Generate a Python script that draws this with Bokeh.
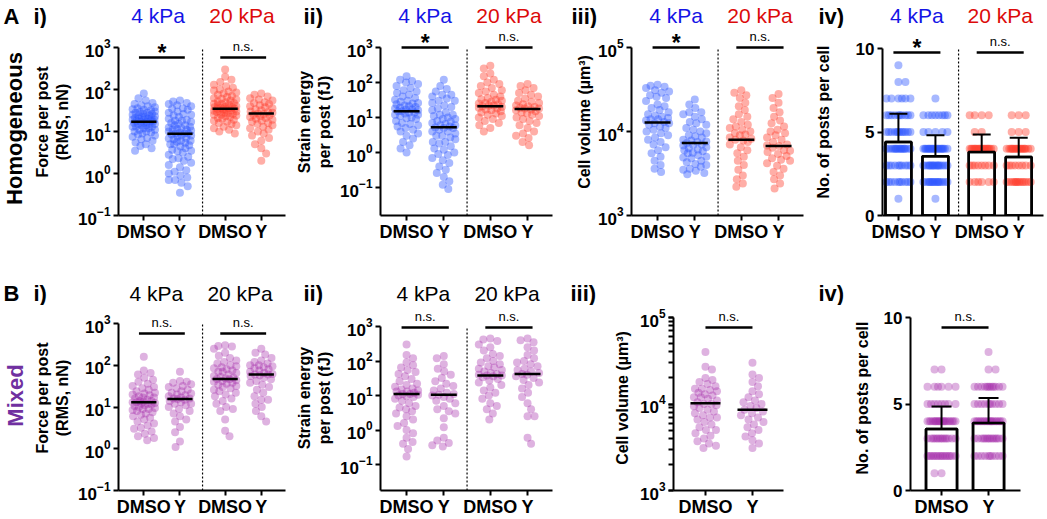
import math
from bokeh.plotting import figure
from bokeh.layouts import row, column
from bokeh.models import Range1d, FixedTicker, LogTicker
from bokeh.core.properties import value
from bokeh.embed import file_html
from bokeh.resources import INLINE

FONT = "Liberation Sans"

# ---------------- data ----------------
x4 = [1, 2, 3.25, 4.25]
labels4 = ["DMSO", "Y", "DMSO", "Y"]
x2 = [1, 2]
labels2 = ["DMSO", "Y"]
stiffness = ["4 kPa", "20 kPa"]
row_names = ["Homogeneous", "Mixed"]
panel_ids = ["i)", "ii)", "iii)", "iv)"]

# A i) force per post, homogeneous (nN)
force_h_dmso4 = [80, 62, 55, 48, 45, 42, 40, 38, 36, 34, 32, 30, 29, 28, 27, 26, 25, 24, 23, 22, 22, 21, 20, 20,
                 19, 19, 18, 18, 17, 17, 17, 16, 16, 15, 15, 14, 14, 13, 13, 12, 12, 11, 11, 10, 10, 9.5, 9, 8.5,
                 8, 7.5, 7, 6.5, 6, 5.5, 5, 4.5, 4, 3.5, 21, 19, 24, 15, 13, 28, 33]
force_h_y4 = [55, 52, 48, 45, 42, 40, 36, 33, 30, 28, 26, 24, 22, 20, 19, 18, 17, 16, 15, 14, 13, 12.5, 12, 11.5,
              11, 10.5, 10, 9.5, 9, 9, 8.5, 8, 7.5, 7, 6.8, 6.5, 6, 5.7, 5.4, 5, 4.7, 4.4, 4, 3.7, 3.4, 3.1, 2.8,
              2.5, 2.2, 2, 1.8, 1.6, 1.4, 1.2, 1, 0.9, 0.8, 0.7, 0.6, 0.5, 0.35, 9, 8, 11, 14, 6, 5, 3.5, 2.3,
              1.1, 0.7, 18, 25, 35]
force_h_dmso20 = [300, 200, 170, 150, 130, 120, 110, 100, 95, 90, 85, 80, 75, 70, 66, 62, 58, 55, 52, 50, 48, 46,
                  44, 42, 40, 39, 38, 37, 36, 35, 34, 33, 32, 31, 30, 29, 28, 27, 26, 25, 24, 23, 22, 21, 20, 19,
                  18, 17, 16, 15, 14, 13, 12, 11, 10, 9, 35, 38, 45, 60, 30, 25]
force_h_y20 = [80, 75, 68, 62, 58, 55, 50, 48, 45, 42, 40, 38, 36, 34, 32, 30, 29, 28, 27, 26, 25, 24, 23, 22, 21,
               20, 19, 18, 17, 16, 15, 14, 13, 12, 11, 10, 9, 8, 7, 6, 5, 4, 3, 2]
force_h_median = [17, 8.8, 35, 27]

# A ii) strain energy per post, homogeneous (fJ)
energy_h_dmso4 = [150, 120, 110, 100, 90, 80, 70, 60, 55, 50, 45, 40, 36, 32, 30, 28, 26, 24, 22, 20, 19, 18, 17,
                  16, 15, 15, 14, 13, 12, 11, 10, 9.5, 9, 8, 7, 6.5, 6, 5.5, 5, 4.5, 4, 3.5, 3, 2.5, 2, 1.6, 1.3,
                  1.0, 14, 17, 21, 25, 12]
energy_h_y4 = [120, 80, 65, 55, 45, 40, 35, 30, 26, 22, 20, 18, 16, 14, 12, 11, 10, 9, 8, 7.5, 7, 6.5, 6, 5.5, 5.2,
               5, 4.5, 4, 3.5, 3, 2.7, 2.4, 2, 1.8, 1.5, 1.2, 1, 0.85, 0.7, 0.6, 0.5, 0.4, 0.32, 0.26, 0.2, 0.15,
               0.12, 0.09, 6, 5, 9, 12, 4, 3, 2, 1.3, 0.9, 30, 45]
energy_h_dmso20 = [300, 250, 180, 150, 120, 100, 90, 80, 70, 60, 55, 50, 45, 40, 36, 33, 30, 28, 26, 24, 22, 21,
                   20, 19, 18, 17, 16, 15, 14, 13, 12, 11, 10, 9, 8, 7, 6, 5, 4, 22, 25, 32]
energy_h_y20 = [90, 80, 70, 60, 50, 45, 40, 35, 30, 28, 26, 24, 22, 20, 19, 18, 17, 16, 15, 14, 13, 12, 11, 10, 9,
                8, 7, 6, 5, 4, 3.5, 3, 2.6, 2, 1.6, 18, 21]
energy_h_median = [15, 5.3, 21, 17.5]

# A iii) cell volume, homogeneous (um^3)
volume_h_dmso4 = [36000, 35000, 33000, 31000, 29000, 27000, 25000, 23000, 21000, 20000, 19000, 18000, 17000,
                  16000, 15500, 15000, 14500, 14000, 13500, 13000, 12500, 12000, 11500, 11000, 10500, 10000, 9500,
                  9000, 8500, 8000, 7500, 7000, 6500, 6000, 5500, 5000, 4500, 4000, 3600, 3300, 34000, 30000,
                  26000, 14000, 12500]
volume_h_y4 = [24000, 21000, 19000, 17000, 16000, 15000, 14000, 13000, 12000, 11000, 10500, 10000, 9500, 9000,
               8500, 8000, 7800, 7500, 7300, 7000, 6800, 6500, 6300, 6000, 5800, 5500, 5200, 5000, 4800, 4500, 4300,
               4000, 3800, 3600, 3400, 3200, 3100, 7600, 6900, 6100, 5600, 4900, 4100, 17000, 12500, 8800, 3500]
volume_h_dmso20 = [31000, 29000, 27000, 25000, 22000, 20000, 18000, 16000, 15000, 14000, 13000, 12000, 11000,
                   10500, 10000, 9500, 9000, 8500, 8000, 7800, 7500, 7000, 6500, 6000, 5500, 5000, 4500, 4000, 3500,
                   3000, 2700, 2400, 2200, 8200, 9200, 11500]
volume_h_y20 = [28000, 25000, 22000, 19000, 17000, 15000, 13500, 12500, 11500, 10500, 10000, 9500, 9000, 8500,
                8000, 7500, 7000, 6700, 6400, 6000, 5700, 5400, 5100, 4800, 4500, 4200, 3900, 3600, 3300, 3000,
                2700, 2400, 2100, 6800, 5900, 4600]
volume_h_median = [12800, 7300, 8000, 6700]

# A iv) posts per cell, homogeneous: number of cells having 1..9 posts
post_levels = [1, 2, 3, 4, 5, 6, 7, 8, 9]
posts_h_dmso4 = [1, 10, 10, 16, 12, 10, 6, 2, 1]
posts_h_y4 = [1, 16, 16, 20, 5, 8, 1, 0, 0]
posts_h_dmso20 = [0, 6, 8, 20, 2, 4, 0, 0, 0]
posts_h_y20 = [0, 14, 8, 18, 3, 3, 0, 0, 0]
posts_h_mean = [4.4, 3.55, 3.8, 3.5]
posts_h_sd = [1.7, 1.25, 1.05, 1.15]

# B i) force per post, mixed
force_m_dmso4 = [160, 75, 65, 60, 50, 45, 40, 36, 32, 30, 28, 26, 24, 22, 20, 19, 18, 17, 16, 15, 14, 13.5, 13,
                 12.5, 12, 11.5, 11, 10.5, 10, 9.5, 9, 8.5, 8, 7.5, 7, 6.5, 6, 5.5, 5, 4.5, 4, 3.6, 3.2, 3, 2.6,
                 2.3, 2, 1.8, 1.6, 13, 12, 14, 17, 9, 21]
force_m_y4 = [70, 42, 40, 38, 35, 32, 30, 28, 26, 24, 22, 20, 19, 18, 17, 16, 15.5, 15, 14, 13, 12, 11, 10, 9, 8,
              7, 6, 5, 4.5, 3.3, 2.5, 1.5, 1.1, 16, 21, 12]
force_m_dmso20 = [300, 290, 280, 250, 200, 170, 150, 130, 120, 110, 100, 95, 90, 85, 80, 75, 70, 65, 60, 55, 50,
                  48, 46, 44, 42, 40, 38, 36, 34, 32, 30, 28, 26, 24, 22, 20, 18, 16, 14, 12, 10, 9, 8, 5, 2.7, 2,
                  47, 52, 70]
force_m_y20 = [250, 200, 180, 150, 130, 120, 110, 100, 95, 90, 85, 80, 75, 70, 65, 62, 60, 58, 55, 50, 46, 42, 38,
               34, 30, 26, 22, 18, 15, 15, 12, 10, 8, 6, 4.5, 100, 60]
force_m_median = [13, 15.5, 47, 60]

# B ii) strain energy per post, mixed
energy_m_dmso4 = [300, 150, 120, 90, 75, 65, 55, 48, 42, 36, 30, 26, 22, 20, 18, 16, 15, 14, 13, 12, 11, 10.5, 10,
                  9.5, 9, 8, 7, 6, 5, 4.5, 4, 3.5, 3, 2.5, 2, 1.6, 1.3, 1, 0.8, 0.6, 0.45, 0.4, 0.28, 0.17, 11, 13]
energy_m_y4 = [140, 120, 80, 60, 50, 40, 32, 26, 22, 19, 16, 14, 12, 11, 10.5, 10, 9, 8, 7, 6, 5, 4, 3.5, 3, 2.2,
               1.2, 0.6, 0.5, 0.42, 0.36, 0.33]
energy_m_dmso20 = [450, 420, 380, 300, 250, 200, 160, 140, 120, 100, 90, 80, 70, 60, 55, 50, 45, 42, 40, 38, 36,
                   34, 30, 27, 24, 20, 17, 14, 12, 10, 8, 6, 5, 4, 3, 2, 38, 65]
energy_m_y20 = [450, 400, 350, 250, 200, 150, 120, 100, 90, 80, 70, 60, 55, 50, 45, 42, 40, 36, 32, 28, 24, 20,
                16, 12, 9, 6, 4, 2.5, 2.5, 0.6, 0.4]
energy_m_median = [11, 10.5, 38, 42]

# B iii) cell volume, mixed
volume_m_dmso = [40000, 27000, 25000, 20000, 19000, 18000, 17000, 16000, 15000, 14500, 14000, 13500, 13000, 12500,
                 12000, 11500, 11000, 10500, 10000, 9700, 9400, 9000, 8600, 8200, 7800, 7400, 7000, 6600, 6200,
                 5800, 5400, 5000, 4600, 4300, 4000, 3700, 3500, 3300, 3100, 12000, 10000, 15000, 7000, 5000]
volume_m_y = [30000, 22000, 20000, 18000, 16000, 14000, 13000, 12000, 11000, 10500, 10000, 9500, 9000, 8600, 8200,
              7800, 7400, 7000, 6600, 6200, 5800, 5400, 5000, 4600, 4200, 3800, 3500, 3100]
volume_m_median = [10200, 8600]

# B iv) posts per cell, mixed
posts_m_dmso = [2, 16, 14, 20, 8, 6, 2, 0, 0]
posts_m_y = [0, 10, 14, 18, 10, 12, 2, 1, 0]
posts_m_mean = [3.55, 3.9]
posts_m_sd = [1.3, 1.45]

# ---------------- styling ----------------
BLUE, RED, PURPLE = "#2e55ff", "#ff3d2e", "#a32aa8"
BLUE_T, RED_T, PURPLE_T = "#1414e6", "#dc0a0a", "#7030a0"


def beeswarm(pys, maxw, d):
    n = len(pys)
    order = sorted(range(n), key=lambda i: pys[i])
    base = [0.0]
    for k in range(1, int(maxw * 2) + 1):
        base += [k * 0.5, -k * 0.5]
    placed, offs = [], [0.0] * n
    for j, i in enumerate(order):
        y = pys[i]
        near = [q for q in placed if abs(q[1] - y) < d]
        cands = base if j % 2 == 0 else [-c for c in base]
        best, best_md = 0.0, -1.0
        for c in cands:
            md = min((math.hypot(c - qx, y - qy) for qx, qy in near), default=1e9)
            if md >= d:
                best = c
                break
            if md > best_md + 1e-9:
                best_md, best = md, c
        offs[i] = best
        placed.append((best, y))
    return offs


class Panel:
    def __init__(self, gx, W, H, L, R, x0, x1, log, ref_lo, ref_hi, fb, yticks, ylabel, xt, xl,
                 minor=False, label_standoff=7):
        (lo_val, lo_px), (hi_val, hi_px) = ref_lo, ref_hi
        self.gx = gx
        self.tf = (lambda v: math.log10(v)) if log else (lambda v: v)
        self.itf = (lambda t: 10 ** t) if log else (lambda t: t)
        self.dpp = (self.tf(hi_val) - self.tf(lo_val)) / (lo_px - hi_px)
        self.t_lo, self.lo_px = self.tf(lo_val), lo_px
        ystart = self.itf(self.t_lo - (fb - lo_px) * self.dpp)
        yend = self.itf(self.tf(hi_val) + hi_px * self.dpp)
        self.x0, self.L = x0, L
        self.sx = (R - L) / (x1 - x0)
        self.ystart, self.hi_val = ystart, hi_val
        p = figure(width=W, height=H, x_range=Range1d(x0, x1), y_range=Range1d(ystart, yend),
                   y_axis_type="log" if log else "linear", output_backend="svg", toolbar_location=None,
                   title=None, min_border_left=L, min_border_right=W - R, min_border_top=0,
                   min_border_bottom=H - fb)
        p.outline_line_color = None
        p.xgrid.visible = False
        p.ygrid.visible = False
        for ax in p.axis:
            ax.axis_line_width = 2
            ax.axis_line_color = "black"
            ax.major_tick_line_width = 2
            ax.major_tick_line_color = "black"
            ax.major_tick_out = 5
            ax.major_tick_in = 0
            ax.minor_tick_in = 0
            ax.minor_tick_out = 0
            ax.major_label_text_font = FONT
            ax.major_label_text_font_style = "bold"
            ax.major_label_text_color = "black"
        yax = p.yaxis[0]
        if minor:
            yax.ticker = LogTicker(mantissas=[1], desired_num_ticks=3, num_minor_ticks=10)
            yax.minor_tick_out = 5
            yax.minor_tick_in = 0
            yax.minor_tick_line_width = 2
            yax.minor_tick_line_color = "black"
            yax.minor_tick_line_alpha = 1.0
        else:
            yax.ticker = FixedTicker(ticks=yticks)
        yax.bounds = (ystart, hi_val)
        yax.major_label_text_font_size = "17px"
        yax.major_label_standoff = 3
        yax.axis_label = ylabel
        yax.axis_label_text_font = FONT
        yax.axis_label_text_font_style = "bold"
        yax.axis_label_text_font_size = "16px"
        yax.axis_label_text_color = "black"
        yax.axis_label_standoff = label_standoff
        xax = p.xaxis[0]
        xax.ticker = FixedTicker(ticks=xt)
        xax.major_label_overrides = {t: l for t, l in zip(xt, xl)}
        xax.major_label_text_font_size = "18px"
        xax.major_label_standoff = 1
        self.p = p

    def gxpos(self, x):
        return self.gx + self.L + (x - self.x0) * self.sx

    def Y(self, py):
        return self.itf(self.t_lo + (self.lo_px - py) * self.dpp)

    def PY(self, v):
        return self.lo_px - (self.tf(v) - self.t_lo) / self.dpp

    def dtext(self, x, py, text, size, bold):
        self.p.text(x=[x], y=[self.Y(py)], text=[text], text_font=value(FONT), text_font_size=size,
                    text_font_style="bold" if bold else "normal", text_align="center",
                    text_baseline="middle", text_color="black")

    def swarm(self, xc, vals, color, alpha, maxw=11.5, d=7.0, size=8):
        offs = beeswarm([self.PY(v) for v in vals], maxw, d)
        self.p.scatter([xc + o / self.sx for o in offs], vals, size=size, fill_color=color,
                       fill_alpha=alpha, line_color=None)

    def medians(self, xs, meds, hw):
        self.p.segment(x0=[x - hw / self.sx for x in xs], x1=[x + hw / self.sx for x in xs],
                       y0=meds, y1=meds, line_color="black", line_width=2.5)

    def sig(self, xa, xb, line_py, text, ext):
        yv = self.Y(line_py)
        self.p.segment(x0=[xa - ext / self.sx], x1=[xb + ext / self.sx], y0=[yv], y1=[yv],
                       line_color="black", line_width=2.5)
        xc = (xa + xb) / 2
        if text == "*":
            self.dtext(xc, line_py - 4.5, "*", "23px", True)
        else:
            self.dtext(xc, line_py - 11.5, text, "13px", False)

    def divider(self, x):
        self.p.segment(x0=[x], x1=[x], y0=[self.ystart], y1=[self.hi_val], line_color="black",
                       line_width=1.2, line_dash="2 2")


def expand(levels, counts):
    out = []
    for lv, c in zip(levels, counts):
        out += [lv] * c
    return out


def scatter_panel(P, groups, colors, alpha, meds, hw, line_py, sigs, divider=True, xs=x4):
    for x, vals, c in zip(xs, groups, colors):
        P.swarm(x, vals, c, alpha)
    P.medians(xs, meds, hw)
    if divider:
        P.divider((xs[1] + xs[2]) / 2)
    ext = 5 if len(xs) == 4 else 0
    for k, s in enumerate(sigs):
        P.sig(xs[2 * k], xs[2 * k + 1], line_py, s, ext)


def bar_panel(P, groups, colors, alpha, means, sds, bw, cw, maxw, line_py, sigs, xs, divider=True):
    p = P.p
    p.vbar(x=xs, top=means, bottom=0, width=bw, fill_color="white", line_color="black", line_width=2.5)
    for x, vals, c in zip(xs, groups, colors):
        offs = beeswarm([P.PY(v) for v in vals], maxw, 7.0)
        p.scatter([x + o / P.sx for o in offs], vals, size=8, fill_color=c, fill_alpha=alpha, line_color=None)
    p.vbar(x=xs, top=means, bottom=0, width=bw, fill_alpha=0, line_color="black", line_width=2.5)
    tops = [m + s for m, s in zip(means, sds)]
    p.segment(x0=xs, x1=xs, y0=means, y1=tops, line_color="black", line_width=2)
    p.segment(x0=[x - cw / P.sx for x in xs], x1=[x + cw / P.sx for x in xs], y0=tops, y1=tops,
              line_color="black", line_width=2)
    if divider:
        P.divider((xs[1] + xs[2]) / 2)
    ext = 5 if len(xs) == 4 else 0
    for k, s in enumerate(sigs):
        P.sig(xs[2 * k], xs[2 * k + 1], line_py, s, ext)


def blank(W, H, bb=0):
    # frame covers y from top (0) down to H - bb; data y = H - pixel-from-top
    p = figure(width=W, height=H, x_range=Range1d(0, W), y_range=Range1d(bb, H), output_backend="svg",
               toolbar_location=None, x_axis_location=None, y_axis_location=None, title=None,
               min_border_left=0, min_border_right=0, min_border_top=0, min_border_bottom=bb)
    p.outline_line_color = None
    p.xgrid.visible = False
    p.ygrid.visible = False
    return p


def put(p, H, x, y, text, size, color="black", bold=True, align="left", angle=0.0):
    p.text(x=[x], y=[H - y], text=[text], text_font=value(FONT), text_font_size=size,
           text_font_style="bold" if bold else "normal", text_color=color, text_align=align,
           text_baseline="middle", angle=angle)


LOG_TICKS = [0.1, 1, 10, 100, 1000]
VOL_TICKS = [1000, 10000, 100000]

cb = [BLUE, BLUE, RED, RED]
cp = [PURPLE] * 4
W_TOT = 1047

# ---------- Row A (panels occupy y 28..250; common x-axis line at local 187) ----------
SA = 28
HA, FA = 250 - SA, 187
A1 = Panel(30, 260, HA, 83, 255, 0.30, 4.92, True, (0.1, FA), (1000, 19), FA, LOG_TICKS,
           "Force per post\n(RMS, nN)", x4, labels4, label_standoff=4)
scatter_panel(A1, [force_h_dmso4, force_h_y4, force_h_dmso20, force_h_y20], cb, 0.42, force_h_median, 13, 29,
              ["*", "n.s."])

A2 = Panel(290, 267, HA, 90, 262, 0.30, 4.92, True, (0.1, 159), (1000, 19), FA, LOG_TICKS,
           "Strain energy\nper post (fJ)", x4, labels4, label_standoff=4)
scatter_panel(A2, [energy_h_dmso4, energy_h_y4, energy_h_dmso20, energy_h_y20], cb, 0.42, energy_h_median, 13,
              19, ["*", "n.s."])

A3 = Panel(557, 251, HA, 74, 246, 0.30, 4.92, True, (1000, FA), (100000, 19), FA, VOL_TICKS,
           "Cell volume (µm³)", x4, labels4, label_standoff=2)
scatter_panel(A3, [volume_h_dmso4, volume_h_y4, volume_h_dmso20, volume_h_y20], cb, 0.42, volume_h_median, 13,
              19, ["*", "n.s."])

A4 = Panel(808, 239, HA, 74, 235, 0.57, 4.92, False, (0, FA), (10, 20), FA, [0, 5, 10],
           "No. of posts per cell", x4, labels4, label_standoff=21)
bar_panel(A4, [expand(post_levels, posts_h_dmso4), expand(post_levels, posts_h_y4),
               expand(post_levels, posts_h_dmso20), expand(post_levels, posts_h_y20)],
          cb, 0.42, posts_h_mean, posts_h_sd, 0.70, 9, 12, 24, ["*", "n.s."], x4)

stripA = blank(W_TOT, SA)
put(stripA, SA, 3, 15.8, "A", "22px")
for gx, pid in zip([33, 303, 571, 818], panel_ids):
    put(stripA, SA, gx, 15.8, pid, "22px")
for P in (A1, A2, A3, A4):
    put(stripA, SA, P.gxpos(1.5), 15, stiffness[0], "21px", BLUE_T, bold=False, align="center")
    put(stripA, SA, P.gxpos(3.75), 15, stiffness[1], "21px", RED_T, bold=False, align="center")

leftA = blank(30, HA, HA - FA)
put(leftA, HA, 14, 100, row_names[0], "22px", "black", align="center", angle=math.pi / 2)

# ---------- Row B (panels occupy y 305..519; common x-axis line at local 185) ----------
HB, FB = 214, 185
B1 = Panel(30, 260, HB, 83, 255, 0.30, 4.92, True, (0.1, FB), (1000, 18), FB, LOG_TICKS,
           "Force per post\n(RMS, nN)", x4, labels4, label_standoff=4)
scatter_panel(B1, [force_m_dmso4, force_m_y4, force_m_dmso20, force_m_y20], cp, 0.36, force_m_median, 13, 28,
              ["n.s.", "n.s."])

B2 = Panel(290, 267, HB, 90, 262, 0.30, 4.92, True, (0.1, 159), (1000, 21), FB, LOG_TICKS,
           "Strain energy\nper post (fJ)", x4, labels4, label_standoff=4)
scatter_panel(B2, [energy_m_dmso4, energy_m_y4, energy_m_dmso20, energy_m_y20], cp, 0.36, energy_m_median, 13,
              22, ["n.s.", "n.s."])

B3 = Panel(557, 251, HB, 116, 226, 0.32, 2.66, True, (1000, FB), (100000, 12), FB, VOL_TICKS,
           "Cell volume (µm³)", x2, labels2, minor=True, label_standoff=6)
scatter_panel(B3, [volume_m_dmso, volume_m_y], [PURPLE, PURPLE], 0.36, volume_m_median, 15, 22, ["n.s."],
              divider=False, xs=x2)

B4 = Panel(808, 239, HB, 102, 212, 0.34, 2.68, False, (0, FB), (10, 12), FB, [0, 5, 10],
           "No. of posts per cell", x2, labels2, label_standoff=10)
bar_panel(B4, [expand(post_levels, posts_m_dmso), expand(post_levels, posts_m_y)], [PURPLE, PURPLE], 0.36,
          posts_m_mean, posts_m_sd, 0.66, 10, 14, 22, ["n.s."], x2, divider=False)

stripB = blank(W_TOT, 55)
put(stripB, 55, 3, 42.5, "B", "22px")
for gx, pid in zip([33, 303, 570, 818], panel_ids):
    put(stripB, 55, gx, 42.5, pid, "22px")
for P in (B1, B2):
    put(stripB, 55, P.gxpos(1.45), 43, stiffness[0], "21px", "black", bold=False, align="center")
    put(stripB, 55, P.gxpos(3.7), 43, stiffness[1], "21px", "black", bold=False, align="center")

leftB = blank(30, HB, HB - FB)
put(leftB, HB, 15, 90, row_names[1], "22px", PURPLE_T, align="center", angle=math.pi / 2)

layout = column(stripA, row(leftA, A1.p, A2.p, A3.p, A4.p),
                stripB, row(leftB, B1.p, B2.p, B3.p, B4.p))

open("out.html", "w").write(file_html(layout, INLINE))
